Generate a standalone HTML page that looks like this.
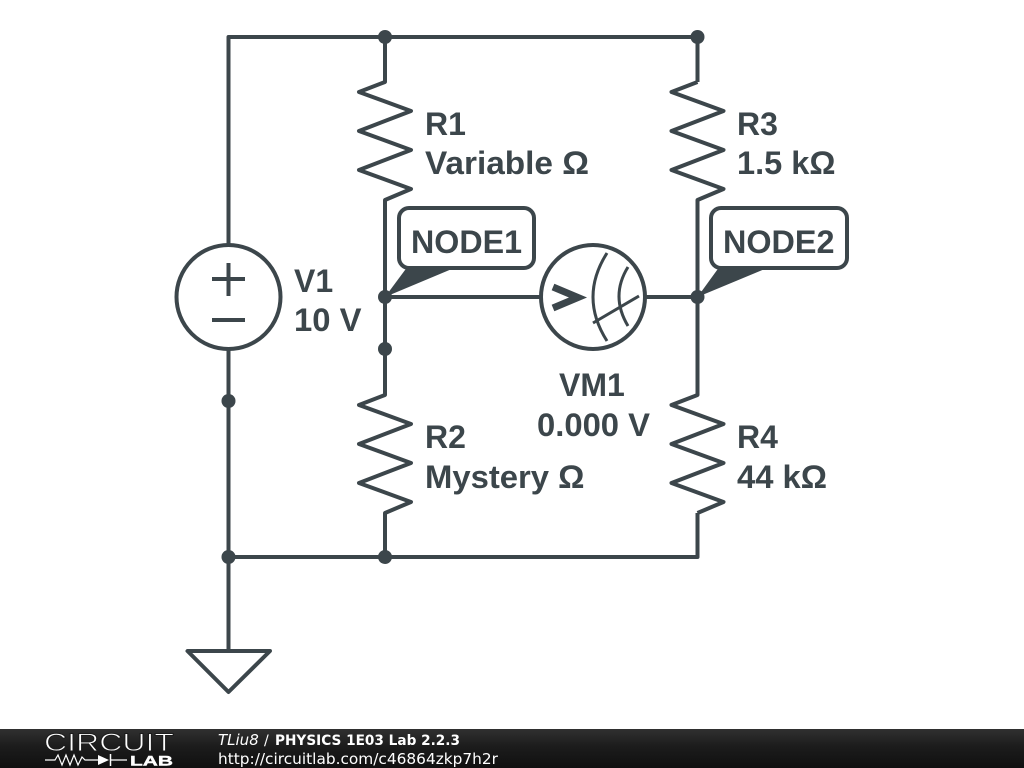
<!DOCTYPE html>
<html><head><meta charset="utf-8"><style>
html,body{margin:0;padding:0;background:#fff;width:1024px;height:768px;overflow:hidden}
svg{display:block}
.l{font:bold 32px "Liberation Sans",sans-serif;fill:#3c464b}
.f{font-family:"DejaVu Sans",sans-serif;fill:#fff}
</style></head><body>
<svg width="1024" height="768" viewBox="0 0 1024 768" xmlns="http://www.w3.org/2000/svg">
<defs><linearGradient id="g" x1="0" y1="0" x2="0" y2="1"><stop offset="0" stop-color="#303030"/><stop offset="0.45" stop-color="#1c1c1c"/><stop offset="1" stop-color="#101010"/></linearGradient></defs>
<g fill="none" stroke="#3c464b" stroke-width="4" stroke-linejoin="round" stroke-linecap="butt">
<path d="M228.500 245V37H697.500V82"/>
<path d="M228.500 350V651"/>
<path d="M228.500 557H697.500V513"/>
<path d="M385 37V82L359 92L411 111L359 131L411 150L359 170L411 189L385 200V395L359 405L411 424L359 444L411 463L359 483L411 502L385 513V557"/>
<path d="M697.500 82L671.500 92L723.500 111L671.500 131L723.500 150L671.500 170L723.500 189L697.500 200V395L671.500 405L723.500 424L671.500 444L723.500 463L671.500 483L723.500 502L697.500 513"/>
<path d="M385 297H540M646 297H697.500"/>
<circle cx="228.500" cy="297" r="52"/>
<path d="M228.500 263V296M212 279H245M212 320H245"/>
<circle cx="593" cy="297" r="52"/>
<path d="M187.500 651H270L228.500 692Z"/>
<rect x="399" y="208" width="135" height="60" rx="10" fill="#fff"/>
<rect x="711" y="208" width="136" height="60" rx="10" fill="#fff"/>
<path d="M553 287L578 297.500L553 308" stroke-width="7" stroke-linejoin="miter"/>
<path d="M607 253Q579 297 607 341" stroke-width="3"/>
<path d="M628 267Q610 296 628 326" stroke-width="3"/>
<path d="M593 323L639 296" stroke-width="3"/>
</g>
<g fill="#3c464b">
<path d="M385 297L408 266H459Z"/>
<path d="M697.500 297L720 266H772Z"/>
<circle cx="385" cy="37" r="7"/><circle cx="697.500" cy="37" r="7"/>
<circle cx="385" cy="297" r="7"/><circle cx="697.500" cy="297" r="7"/>
<circle cx="385" cy="349" r="7"/><circle cx="228.500" cy="401" r="7"/>
<circle cx="228.500" cy="557" r="7"/><circle cx="385" cy="557" r="7"/>
</g>
<text class="l" x="425" y="135">R1</text>
<text class="l" x="425" y="174" textLength="164" lengthAdjust="spacingAndGlyphs">Variable Ω</text>
<text class="l" x="737" y="135">R3</text>
<text class="l" x="737" y="174" textLength="98.500" lengthAdjust="spacingAndGlyphs">1.5 kΩ</text>
<text class="l" x="294" y="292">V1</text>
<text class="l" x="294" y="331" textLength="67.500" lengthAdjust="spacingAndGlyphs">10 V</text>
<text class="l" x="411" y="253" textLength="111" lengthAdjust="spacingAndGlyphs">NODE1</text>
<text class="l" x="723" y="253" textLength="111.500" lengthAdjust="spacingAndGlyphs">NODE2</text>
<text class="l" x="559" y="396">VM1</text>
<text class="l" x="537" y="436" textLength="113" lengthAdjust="spacingAndGlyphs">0.000 V</text>
<text class="l" x="425" y="448">R2</text>
<text class="l" x="425" y="488" textLength="159.500" lengthAdjust="spacingAndGlyphs">Mystery Ω</text>
<text class="l" x="737" y="448">R4</text>
<text class="l" x="737" y="488" textLength="90" lengthAdjust="spacingAndGlyphs">44 kΩ</text>
<rect x="0" y="729" width="1024" height="39" fill="url(#g)"/>
<text x="44" y="751" font-family="Liberation Sans,sans-serif" font-size="25" fill="#fff" stroke="#1c1c1c" stroke-width="0.9" textLength="130" lengthAdjust="spacingAndGlyphs">CIRCUIT</text>
<path d="M45 760H55L58 755L62 765L66 755L70 765L74 755L78 765L82 757L85 760H99M111 760H127" fill="none" stroke="#fff" stroke-width="1.200"/>
<path d="M98 755L109 760L98 765Z" fill="#fff"/><path d="M110.500 754V766" stroke="#fff" stroke-width="1.500"/>
<text x="130" y="765.500" font-family="Liberation Sans,sans-serif" font-weight="bold" font-size="14" fill="#fff" stroke="#fff" stroke-width="0.400" textLength="43" lengthAdjust="spacingAndGlyphs">LAB</text>
<text class="f" x="218" y="745" font-size="15" font-style="italic">TLiu8</text>
<text class="f" x="264" y="745" font-size="14">/</text>
<text class="f" x="275" y="745" font-size="14" font-weight="bold" textLength="185" lengthAdjust="spacingAndGlyphs">PHYSICS 1E03 Lab 2.2.3</text>
<text class="f" x="218" y="764" font-size="15" textLength="280" lengthAdjust="spacingAndGlyphs">http://circuitlab.com/c46864zkp7h2r</text>
</svg>
</body></html>
